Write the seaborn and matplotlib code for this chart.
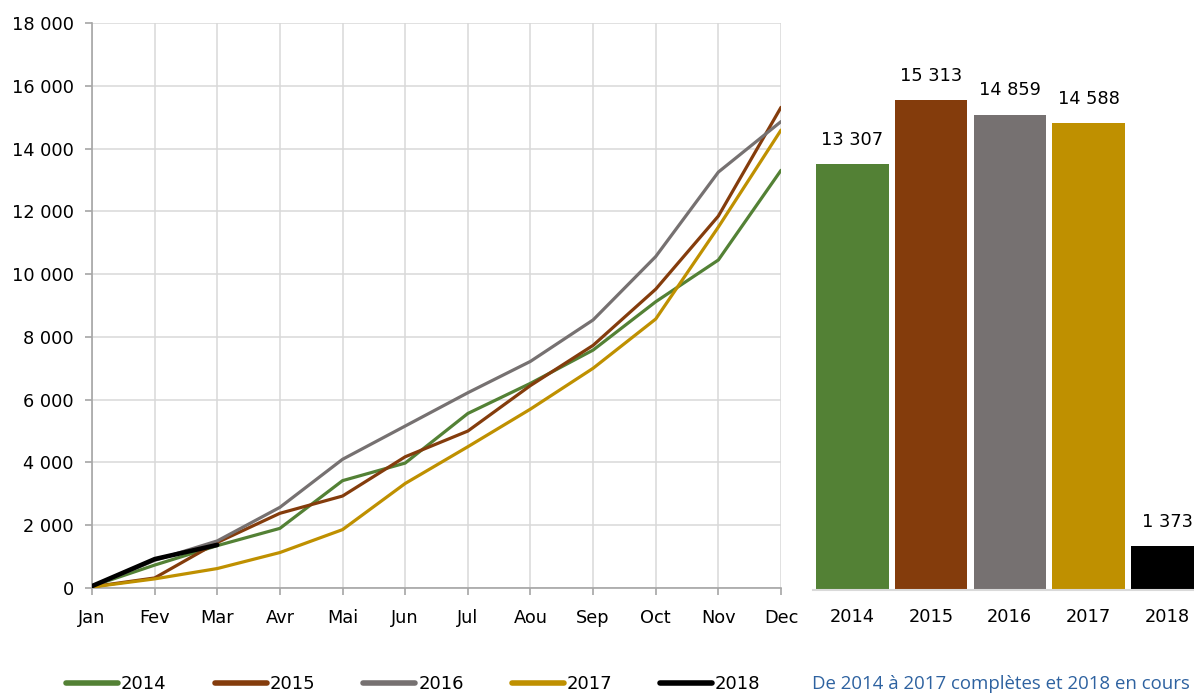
import matplotlib
matplotlib.use("Agg")
import matplotlib.pyplot as plt
from matplotlib.ticker import FuncFormatter
import pandas as pd
import seaborn as sns

# ── Données ───────────────────────────────────────────────────────────────────
MOIS = ["Jan", "Fev", "Mar", "Avr", "Mai", "Jun", "Jul", "Aou", "Sep", "Oct", "Nov", "Dec"]
ANNEES = ["2014", "2015", "2016", "2017", "2018"]

CUMUL_2014 = [60, 730, 1350, 1900, 3420, 3980, 5560, 6520, 7580, 9120, 10450, 13307]
CUMUL_2015 = [40, 320, 1450, 2380, 2930, 4180, 5000, 6450, 7730, 9520, 11850, 15313]
CUMUL_2016 = [50, 880, 1500, 2570, 4100, 5160, 6220, 7220, 8540, 10560, 13250, 14859]
CUMUL_2017 = [30, 290, 620, 1130, 1860, 3330, 4500, 5700, 7000, 8570, 11500, 14588]
CUMUL_2018 = [60, 920, 1373]

TOTAUX = [13307, 15313, 14859, 14588, 1373]

NOTE = "De 2014 à 2017 complètes et 2018 en cours"

# ── Style ─────────────────────────────────────────────────────────────────────
COULEURS = {
    "2014": "#538135",
    "2015": "#843c0c",
    "2016": "#767171",
    "2017": "#bf9000",
    "2018": "#000000",
}
GRILLE = "#d9d9d9"
AXE = "#a6a6a6"
FS = 12.8

sns.set_theme(style="white")
plt.rcParams["font.family"] = ["DejaVu Sans"]
plt.rcParams["text.color"] = "black"
plt.rcParams["xtick.labelcolor"] = "black"
plt.rcParams["ytick.labelcolor"] = "black"


def milliers(v, _pos=None):
    return f"{int(round(v)):,}".replace(",", " ")


series = {"2014": CUMUL_2014, "2015": CUMUL_2015, "2016": CUMUL_2016,
          "2017": CUMUL_2017, "2018": CUMUL_2018}
lignes = pd.DataFrame(
    [{"annee": a, "mois": i, "valeur": v}
     for a, vals in series.items() for i, v in enumerate(vals)]
)
barres = pd.DataFrame({"annee": ANNEES, "total": TOTAUX})

fig = plt.figure(figsize=(11.94, 6.93), dpi=100)
fig.patch.set_facecolor("white")

# ── Courbes cumulées ──────────────────────────────────────────────────────────
ax = fig.add_axes([92 / 1194, 105 / 693, 689 / 1194, 565 / 693])
for annee in ANNEES:
    sns.lineplot(
        data=lignes[lignes["annee"] == annee], x="mois", y="valeur",
        color=COULEURS[annee], linewidth=3.3 if annee == "2018" else 2.3,
        ax=ax, label=annee, zorder=4 if annee == "2018" else 3,
    )
ax.get_legend().remove()
ax.set_xlim(0, len(MOIS) - 1)
ax.set_ylim(0, 18000)
ax.set_xticks(range(len(MOIS)))
ax.set_xticklabels(MOIS)
ax.set_yticks(range(0, 18001, 2000))
ax.yaxis.set_major_formatter(FuncFormatter(milliers))
ax.set_xlabel("")
ax.set_ylabel("")
ax.grid(True, color=GRILLE, linewidth=1.1)
ax.set_axisbelow(True)
for cote in ("top", "right"):
    ax.spines[cote].set_visible(False)
for cote in ("left", "bottom"):
    ax.spines[cote].set_color(AXE)
    ax.spines[cote].set_linewidth(1.2)
ax.tick_params(axis="both", labelsize=FS, colors=AXE, labelcolor="black",
               length=5, width=1.2, direction="out", pad=8,
               left=True, bottom=True)
ax.tick_params(axis="x", pad=10)

# ── Totaux annuels ────────────────────────────────────────────────────────────
axb = fig.add_axes([813 / 1194, 103 / 693, 381 / 1194, 567 / 693])
sns.barplot(
    data=barres, x="annee", y="total", hue="annee", palette=COULEURS,
    width=0.92, legend=False, saturation=1, linewidth=0, ax=axb,
)
axb.set_xlim(-0.5, 4.34)
axb.set_ylim(0, 17720)
for i, v in enumerate(TOTAUX):
    axb.text(i, v + 480, milliers(v), ha="center", va="bottom",
             fontsize=FS, color="black")
axb.set_yticks([])
axb.set_xlabel("")
axb.set_ylabel("")
for cote in ("top", "right", "left"):
    axb.spines[cote].set_visible(False)
axb.spines["bottom"].set_color(GRILLE)
axb.spines["bottom"].set_linewidth(1.5)
axb.tick_params(axis="x", labelsize=FS, labelcolor="black", length=0, pad=13)

# ── Légende et note ───────────────────────────────────────────────────────────
poignees = [plt.Line2D([], [], color=COULEURS[a], linewidth=4) for a in ANNEES]
fig.legend(
    poignees, ANNEES, loc="center left", bbox_to_anchor=(66 / 1194, 9 / 693),
    ncol=5, frameon=False, fontsize=13, handlelength=2.9,
    handletextpad=0.15, columnspacing=2.65, borderaxespad=0, borderpad=0,
)
fig.text(1190 / 1194, 9 / 693, NOTE, ha="right", va="center",
         fontsize=13.4, color="#2e62a0", family=["Open Sans", "DejaVu Sans"])

fig.savefig("out.png", dpi=100)
